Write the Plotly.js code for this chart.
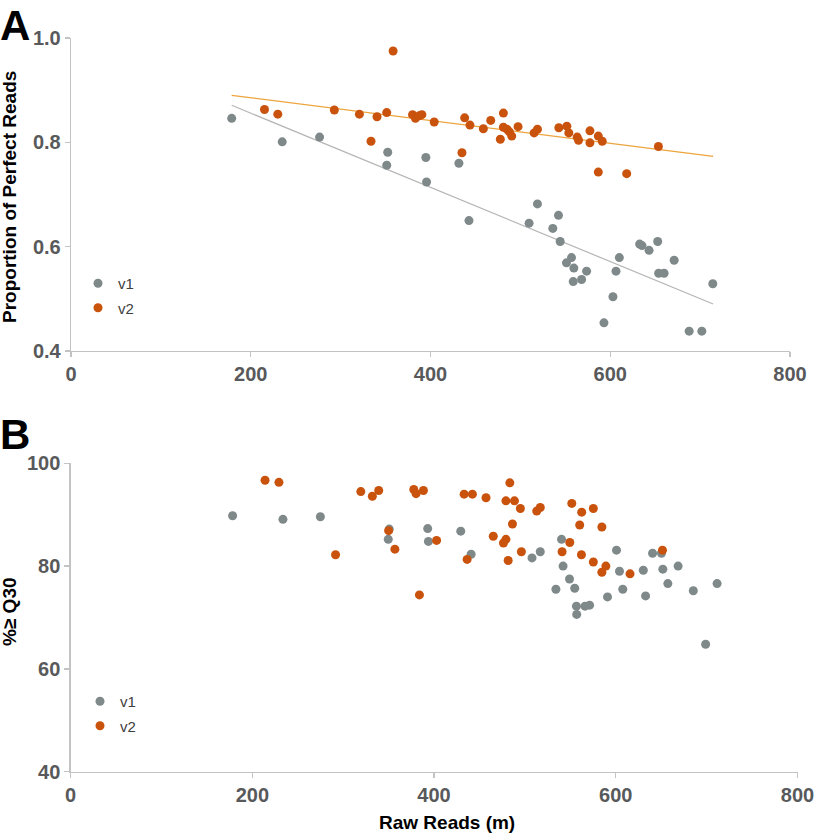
<!DOCTYPE html>
<html>
<head>
<meta charset="utf-8">
<script src="https://cdn.plot.ly/plotly-3.0.1.min.js"></script>
<style>
  html, body { margin: 0; padding: 0; background: #ffffff; }
  #chart { width: 815px; height: 839px; }
</style>
</head>
<body>
<div id="chart"></div>
<script>
// ---------- Panel A: Proportion of Perfect Reads vs Raw Reads ----------
const v1RawA = [178.8, 235, 276.6, 352.4, 351.3, 394.8, 395.6, 431.6, 442.8, 519, 542.4, 509.7, 536.1, 544.3, 556.9, 551.3, 559.5, 558.8, 568.1, 573.7, 610.1, 606.4, 603, 593, 632.7, 635.3, 643.2, 652.8, 653.9, 659.9, 671.1, 687.8, 701.9, 714.1];
const v1PerfectA = [0.846, 0.801, 0.810, 0.781, 0.756, 0.771, 0.724, 0.760, 0.650, 0.682, 0.660, 0.645, 0.635, 0.610, 0.579, 0.569, 0.559, 0.533, 0.537, 0.553, 0.579, 0.553, 0.504, 0.454, 0.605, 0.602, 0.593, 0.610, 0.549, 0.549, 0.574, 0.438, 0.438, 0.529];

const v2RawA = [358.4, 215.3, 230.1, 293, 320.9, 340.5, 351.3, 333.8, 380, 383.2, 387.5, 390.4, 404.1, 438, 443.9, 435, 467, 458.8, 481.1, 481.1, 485.2, 487.8, 490.4, 477.7, 497.4, 515.3, 519, 542.8, 551.7, 553.9, 563.2, 564.7, 577.4, 577.4, 586.7, 591.1, 586.7, 618.3, 653.6];
const v2PerfectA = [0.975, 0.863, 0.854, 0.862, 0.854, 0.849, 0.857, 0.802, 0.853, 0.846, 0.851, 0.853, 0.839, 0.847, 0.833, 0.780, 0.842, 0.826, 0.856, 0.829, 0.825, 0.820, 0.812, 0.806, 0.830, 0.818, 0.825, 0.828, 0.831, 0.818, 0.810, 0.804, 0.822, 0.799, 0.812, 0.802, 0.743, 0.740, 0.792];

// linear trend lines
const trendRaw = [178.8, 714.5];
const trendV1 = [0.871, 0.490];
const trendV2 = [0.890, 0.773];

// ---------- Panel B: %>=Q30 vs Raw Reads ----------
const v1RawB = [178.3, 233.7, 274.9, 350.7, 349.6, 393.0, 393.8, 429.4, 440.8, 507.8, 516.9, 540.3, 542.0, 549.1, 534.1, 554.8, 556.7, 566.1, 571.2, 557.0, 590.9, 600.8, 604.1, 607.7, 630.3, 632.8, 640.5, 650.3, 651.8, 657.3, 668.6, 685.3, 711.5, 698.9];
const v1Q30B = [89.8, 89.1, 89.6, 87.2, 85.2, 87.3, 84.8, 86.8, 82.3, 81.6, 82.8, 85.2, 80.0, 77.5, 75.5, 75.7, 72.2, 72.2, 72.4, 70.6, 74.0, 83.1, 79.0, 75.5, 79.2, 74.2, 82.5, 82.5, 79.4, 76.6, 80.0, 75.2, 76.6, 64.8];

const v2RawB = [214.0, 229.3, 319.4, 332.1, 339.1, 377.7, 380.2, 388.3, 433.1, 442.2, 291.6, 350.0, 356.9, 402.8, 436.4, 383.9, 457.2, 483.4, 479.1, 488.5, 495.0, 513.0, 516.9, 486.3, 465.2, 476.4, 479.1, 481.6, 496.1, 551.6, 562.5, 575.3, 560.3, 584.7, 549.4, 540.9, 562.2, 575.3, 589.1, 584.7, 615.7, 651.4];
const v2Q30B = [96.7, 96.3, 94.5, 93.6, 94.7, 94.9, 94.1, 94.7, 94.0, 94.0, 82.2, 86.9, 83.3, 85.0, 81.3, 74.4, 93.3, 96.2, 92.7, 92.7, 91.2, 90.7, 91.4, 88.2, 85.8, 84.5, 85.2, 81.1, 82.8, 92.2, 90.5, 91.2, 88.0, 87.6, 84.6, 82.8, 82.2, 80.8, 80.0, 78.8, 78.5, 83.1];

const seriesNames = ['v1', 'v2'];
const xTicks = [0, 200, 400, 600, 800];

// ---------- styling ----------
const GREY = '#7f898a';
const ORANGE = '#c9520c';
const GREY_LINE = '#b5b5b5';
const ORANGE_LINE = '#eda43c';
const AXIS = '#c3c3c3';
const TICKTXT = '#58595b';
const FONT = 'Liberation Sans, Arial, sans-serif';
const W = 815, H = 839;

const px = v => v / W;
const py = v => 1 - v / H;

const traces = [
  { x: trendRaw, y: trendV1, type: 'scatter', mode: 'lines', xaxis: 'x', yaxis: 'y',
    line: { color: GREY_LINE, width: 1.2 }, showlegend: false, hoverinfo: 'skip' },
  { x: trendRaw, y: trendV2, type: 'scatter', mode: 'lines', xaxis: 'x', yaxis: 'y',
    line: { color: ORANGE_LINE, width: 1.2 }, showlegend: false, hoverinfo: 'skip' },
  { x: v1RawA, y: v1PerfectA, name: seriesNames[0], type: 'scatter', mode: 'markers', xaxis: 'x', yaxis: 'y',
    marker: { color: GREY, size: 9 }, legend: 'legend', legendgroup: 'a1' },
  { x: v2RawA, y: v2PerfectA, name: seriesNames[1], type: 'scatter', mode: 'markers', xaxis: 'x', yaxis: 'y',
    marker: { color: ORANGE, size: 9 }, legend: 'legend', legendgroup: 'a2' },
  { x: v1RawB, y: v1Q30B, name: seriesNames[0], type: 'scatter', mode: 'markers', xaxis: 'x2', yaxis: 'y2',
    marker: { color: GREY, size: 9 }, legend: 'legend2', legendgroup: 'b1' },
  { x: v2RawB, y: v2Q30B, name: seriesNames[1], type: 'scatter', mode: 'markers', xaxis: 'x2', yaxis: 'y2',
    marker: { color: ORANGE, size: 9 }, legend: 'legend2', legendgroup: 'b2' }
];

const tickFont = { family: FONT, size: 20, color: TICKTXT, weight: 'bold' };
const axisCommon = {
  showgrid: false, zeroline: false, showline: true, linecolor: AXIS, linewidth: 1.3,
  ticks: 'outside', ticklen: 5, tickcolor: AXIS, tickwidth: 1.3, tickfont: tickFont,
  ticklabeloverflow: 'allow'
};

const legendCommon = {
  bgcolor: 'rgba(0,0,0,0)', font: { family: FONT, size: 15, color: '#404040' },
  itemsizing: 'trace', tracegroupgap: 2, xanchor: 'left', yanchor: 'top', orientation: 'v'
};

const layout = {
  width: W, height: H,
  margin: { l: 0, r: 0, t: 0, b: 0 },
  paper_bgcolor: '#ffffff', plot_bgcolor: '#ffffff',
  font: { family: FONT },
  xaxis: Object.assign({}, axisCommon, { domain: [px(71), px(790)], range: [0, 800], tickvals: xTicks, anchor: 'y' }),
  yaxis: Object.assign({}, axisCommon, { domain: [py(351), py(38)], range: [0.4, 1.0], dtick: 0.2, tickformat: '.1f', anchor: 'x' }),
  xaxis2: Object.assign({}, axisCommon, { domain: [px(70.6), px(797.5)], range: [0, 800], tickvals: xTicks, anchor: 'y2' }),
  yaxis2: Object.assign({}, axisCommon, { domain: [py(771.7), py(463.3)], range: [40, 100], dtick: 20, anchor: 'x2' }),
  legend: Object.assign({}, legendCommon, { x: px(78), y: py(267) }),
  legend2: Object.assign({}, legendCommon, { x: px(80), y: py(685) }),
  annotations: [
    { text: 'A', xref: 'paper', yref: 'paper', x: px(-2), y: py(0), xanchor: 'left', yanchor: 'top',
      showarrow: false, font: { family: FONT, size: 42, color: '#000', weight: 'bold' } },
    { text: 'B', xref: 'paper', yref: 'paper', x: px(-2), y: py(409), xanchor: 'left', yanchor: 'top',
      showarrow: false, font: { family: FONT, size: 42, color: '#000', weight: 'bold' } },
    { text: 'Proportion of Perfect Reads', xref: 'paper', yref: 'paper', x: px(9), y: py(197),
      xanchor: 'center', yanchor: 'middle', textangle: -90, showarrow: false,
      font: { family: FONT, size: 19, color: '#000', weight: 'bold' } },
    { text: '%≥ Q30', xref: 'paper', yref: 'paper', x: px(9), y: py(612),
      xanchor: 'center', yanchor: 'middle', textangle: -90, showarrow: false,
      font: { family: FONT, size: 19, color: '#000', weight: 'bold' } },
    { text: 'Raw Reads (m)', xref: 'paper', yref: 'paper', x: px(447), y: py(822),
      xanchor: 'center', yanchor: 'middle', showarrow: false,
      font: { family: FONT, size: 19, color: '#000', weight: 'bold' } }
  ]
};

Plotly.newPlot('chart', traces, layout, { staticPlot: true, displayModeBar: false });
</script>
</body>
</html>
